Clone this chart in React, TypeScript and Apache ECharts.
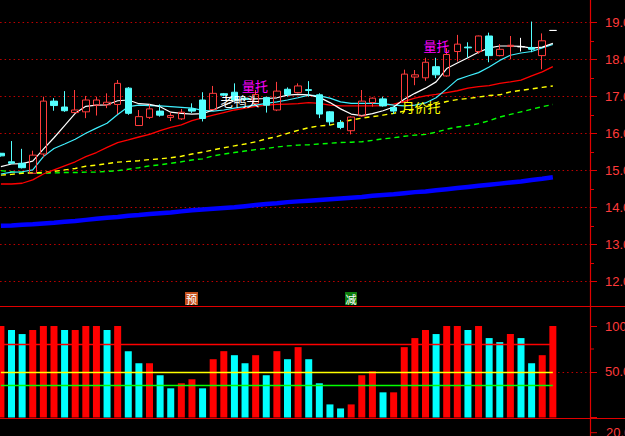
import React, { useEffect, useRef } from "react";
import * as echarts from "echarts";

// ---- data ----
const slotCount = 56; // 53 trading days + 3 empty slots at the right edge
const slots: string[] = Array.from({ length: slotCount }, (_, i) => String(i));

const candleOpen = [
  15.46, 15.23, 15.19, 14.92, 15.44, 16.87, 16.71, 16.56, 16.58, 16.76,
  16.77, 16.78, 17.22, 16.21, 16.43, 16.6, 16.43, 16.39, 16.66, 16.9,
  16.64, 17.07, 17.11, 16.95, 16.81, 16.97, 16.63, 17.19, 17.1, 17.18,
  17.04, 16.58, 16.29, 16.07, 16.47, 16.83, 16.93, 16.7, 16.84, 17.52,
  17.5, 17.8, 17.55, 18.21, 18.33, 18.21, 18.63, 18.1, 18.35, 18.34,
  18.32, 18.1, 18.78,
];
const candleClose = [
  15.39, 15.19, 15.07, 15.41, 16.87, 16.75, 16.61, 16.63, 16.9, 16.9,
  16.84, 17.35, 16.54, 16.45, 16.66, 16.49, 16.48, 16.57, 16.6, 16.4,
  17.08, 17.03, 16.9, 16.92, 17.05, 16.76, 17.14, 17.05, 17.28, 17.16,
  16.52, 16.31, 16.16, 16.44, 16.87, 16.95, 16.74, 16.6, 17.6, 17.58,
  17.92, 17.58, 18.13, 18.41, 18.31, 18.63, 18.1, 18.27, 18.38, 18.34,
  18.27, 18.5, 18.78,
];
const candleLow = [
  15.37, 15.17, 15.05, 14.9, 15.35, 16.61, 16.58, 16.55, 16.41, 16.48,
  16.68, 16.52, 16.5, 16.21, 16.39, 16.45, 16.33, 16.36, 16.55, 16.32,
  16.63, 17.0, 16.88, 16.88, 16.8, 16.56, 16.6, 16.99, 17.08, 16.99,
  16.41, 16.22, 16.11, 15.97, 16.45, 16.72, 16.72, 16.52, 16.82, 17.3,
  17.42, 17.49, 17.53, 17.94, 18.04, 18.15, 17.92, 18.08, 18.0, 18.21,
  18.19, 17.73, 18.78,
];
const candleHigh = [
  15.47, 15.79, 15.58, 15.53, 16.99, 16.95, 17.14, 17.17, 17.01, 16.99,
  17.08, 17.44, 17.25, 16.63, 16.78, 16.78, 16.56, 16.66, 16.81, 17.11,
  17.28, 17.09, 17.35, 17.0, 17.17, 16.99, 17.39, 17.24, 17.35, 17.41,
  17.08, 16.6, 16.36, 16.46, 17.17, 16.97, 16.99, 16.72, 17.72, 17.71,
  18.04, 18.04, 18.3, 18.66, 18.46, 18.64, 18.72, 18.41, 18.63, 18.58,
  19.02, 18.7, 18.78,
];

const maWhite = [
  15.1, 15.17, 15.18, 15.25, 15.57, 15.88, 16.21, 16.54, 16.73, 16.76,
  16.77, 16.88, 16.9, 16.8, 16.78, 16.72, 16.57, 16.54, 16.52, 16.53,
  16.63, 16.76, 16.88, 16.92, 16.93, 16.94, 16.96, 17.03, 17.05, 17.04,
  16.97, 16.83, 16.66, 16.52, 16.48, 16.53, 16.61, 16.71, 16.92, 17.08,
  17.22, 17.39, 17.75, 17.9, 18.04, 18.19, 18.31, 18.36, 18.36, 18.35,
  18.3, 18.33, 18.43,
];
const maCyan = [
  14.9, 14.95, 14.96, 15.01, 15.37, 15.59, 15.71, 15.84, 16.0, 16.14,
  16.27, 16.51, 16.72, 16.76, 16.75, 16.74, 16.72, 16.7, 16.68, 16.62,
  16.6, 16.63, 16.68, 16.72, 16.76, 16.81, 16.85, 16.9, 16.96, 17.03,
  17.01, 16.95, 16.85, 16.81, 16.81, 16.81, 16.8, 16.76, 16.74, 16.76,
  16.82, 16.96, 17.2, 17.45, 17.55, 17.64, 17.79, 17.97, 18.11, 18.17,
  18.21, 18.31, 18.4,
];
const maRed = [
  14.63, 14.63, 14.65, 14.74, 14.9, 15.01, 15.12, 15.23, 15.37, 15.48,
  15.62, 15.75, 15.82, 15.9, 15.97, 16.07, 16.16, 16.23, 16.34, 16.42,
  16.49, 16.56, 16.63, 16.68, 16.73, 16.76, 16.78, 16.79, 16.8, 16.83,
  16.81, 16.76, 16.74, 16.74, 16.74, 16.74, 16.75, 16.79, 16.86, 16.95,
  17.01, 17.05, 17.1, 17.15, 17.22, 17.26, 17.29, 17.35, 17.39, 17.44,
  17.55, 17.66, 17.8,
];
const maYellow = [
  14.87, 14.89, 14.92, 14.93, 14.94, 14.97, 15.01, 15.05, 15.11, 15.14,
  15.18, 15.22, 15.24, 15.26, 15.29, 15.31, 15.34, 15.38, 15.44, 15.49,
  15.55, 15.61, 15.66, 15.71, 15.77, 15.85, 15.91, 16.0, 16.08, 16.15,
  16.2, 16.22, 16.29, 16.36, 16.41, 16.45, 16.49, 16.54, 16.6, 16.65,
  16.72, 16.78, 16.86, 16.91, 16.94, 16.98, 17.02, 17.04, 17.12, 17.16,
  17.2, 17.24, 17.28,
];
const maGreen = [
  14.99, 14.96, 14.95, 14.92, 14.92, 14.93, 14.94, 14.94, 14.95, 14.95,
  14.97, 14.99, 15.03, 15.07, 15.12, 15.15, 15.19, 15.23, 15.28, 15.31,
  15.39, 15.44, 15.48, 15.52, 15.56, 15.59, 15.63, 15.66, 15.68, 15.69,
  15.71, 15.73, 15.75, 15.76, 15.77, 15.81, 15.85, 15.88, 15.92, 15.95,
  15.97, 16.03, 16.11, 16.17, 16.21, 16.26, 16.34, 16.44, 16.51, 16.58,
  16.65, 16.72, 16.78,
];
const maBlue = [
  13.5, 13.51, 13.53, 13.54, 13.56, 13.58, 13.61, 13.63, 13.66, 13.69,
  13.72, 13.74, 13.77, 13.79, 13.82, 13.84, 13.86, 13.89, 13.92, 13.94,
  13.96, 13.98, 14.0, 14.03, 14.06, 14.09, 14.11, 14.14, 14.16, 14.18,
  14.2, 14.22, 14.24, 14.26, 14.28, 14.31, 14.33, 14.35, 14.38, 14.41,
  14.43, 14.46, 14.49, 14.52, 14.55, 14.58, 14.61, 14.64, 14.67, 14.7,
  14.74, 14.77, 14.81,
];

// lower indicator panel
const indValues = [
  100, 95.6, 91.2, 95.6, 100, 100, 95.6, 95.6, 100, 100,
  95.6, 100, 72.5, 59.3, 59.3, 46.2, 31.9, 37.4, 41.8, 31.9,
  63.7, 72.5, 68.1, 59.3, 68.1, 46.2, 72.5, 63.7, 76.9, 63.7,
  37.4, 14.3, 9.9, 14.3, 46.2, 50.5, 27.5, 27.5, 76.9, 86.8,
  95.6, 91.2, 100, 100, 95.6, 100, 86.8, 82.4, 91.2, 86.8,
  59.3, 68.1, 100,
];
// 1 = red bar, -1 = cyan bar
const indDir = [
  1, -1, -1, 1, 1, 1, -1, 1, 1, 1,
  -1, 1, -1, -1, 1, -1, -1, 1, 1, -1,
  1, 1, -1, -1, 1, -1, 1, -1, 1, -1,
  -1, -1, -1, 1, 1, 1, -1, 1, 1, 1,
  1, -1, 1, 1, -1, 1, -1, -1, 1, -1,
  -1, 1, 1,
];
const indLevels = [80, 50, 35]; // red, yellow, green reference lines
const indLabels = ["100", "50.0"];

// ---- layout constants ----
const AXIS_X = 590;
const GRID_LEFT = -4.4;
const GRID_W = AXIS_X - GRID_LEFT;
const RED = "#e00000";
const LABEL_RED = "#ff3a3a";
const CANDLE_RED = "#ff3c3c";
const CANDLE_CYAN = "#54ffff";

export default function App() {
  const ref = useRef<HTMLDivElement>(null);

  useEffect(() => {
    if (!ref.current) return;
    const chart = echarts.init(ref.current, undefined, { renderer: "svg" });

    const dojiStyle = {
      color: "#ffffff",
      color0: "#ffffff",
      borderColor: "#ffffff",
      borderColor0: "#ffffff",
      borderColorDoji: "#ffffff",
    };
    const candleData = candleOpen.map((o, i) => {
      const v = [o, candleClose[i], candleLow[i], candleHigh[i]];
      return o === candleClose[i] ? { value: v, itemStyle: dojiStyle } : v;
    });
    const barData = indValues.map((v, i) => ({
      value: v,
      itemStyle: { color: indDir[i] > 0 ? "#ff0000" : "#00ffff" },
    }));

    const maLine = (data: number[], color: string, width: number, type: any, z = 2) => ({
      type: "line",
      xAxisIndex: 0,
      yAxisIndex: 0,
      data,
      showSymbol: false,
      symbol: "none",
      clip: false,
      silent: true,
      z,
      lineStyle: { color, width, type },
    });

    const levelColors = ["#ff0000", "#ffff00", "#00ff00"];
    const lastIdx = String(indValues.length - 1);

    const labelFont = { fontFamily: "Liberation Sans, Arial, sans-serif", fontSize: 13 };
    const cjk = "Noto Sans CJK SC";

    chart.setOption({
      animation: false,
      backgroundColor: "#000000",
      grid: [
        { left: GRID_LEFT, top: 22.3, width: GRID_W, height: 259, outerBoundsMode: "none", containLabel: false },
        { left: GRID_LEFT, top: 326, width: GRID_W, height: 91.5, outerBoundsMode: "none", containLabel: false },
      ],
      xAxis: [
        { type: "category", gridIndex: 0, data: slots, boundaryGap: true, show: false },
        { type: "category", gridIndex: 1, data: slots, boundaryGap: true, show: false },
      ],
      yAxis: [
        {
          type: "value",
          gridIndex: 0,
          position: "right",
          min: 12,
          max: 19,
          interval: 1,
          axisLine: { show: false },
          axisTick: { show: true, length: 7, lineStyle: { color: RED } },
          minorTick: { show: true, splitNumber: 2, length: 4, lineStyle: { color: RED } },
          splitLine: { show: true, lineStyle: { color: "#c00000", type: [1.5, 3], width: 1 } },
          axisLabel: {
            show: true,
            margin: 15,
            color: LABEL_RED,
            ...labelFont,
            formatter: (v: number) => v.toFixed(1),
          },
        },
        {
          type: "value",
          gridIndex: 1,
          position: "right",
          min: 0,
          max: 100,
          interval: 50,
          axisLine: { show: false },
          axisTick: { show: true, length: 7, lineStyle: { color: RED } },
          splitLine: { show: false },
          axisLabel: {
            show: true,
            margin: 15,
            color: LABEL_RED,
            ...labelFont,
            formatter: (v: number) => (v === 100 ? indLabels[0] : v === 50 ? indLabels[1] : ""),
          },
        },
      ],
      series: [
        maLine(maBlue, "#0000ff", 4.5, "solid"),
        maLine(maGreen, "#00ff00", 1.4, [5, 4]),
        maLine(maYellow, "#ffff00", 1.4, [5, 4]),
        maLine(maRed, "#ff0000", 1.3, "solid"),
        maLine(maCyan, "#40f0ff", 1.2, "solid"),
        maLine(maWhite, "#ffffff", 1.2, "solid"),
        {
          type: "candlestick",
          xAxisIndex: 0,
          yAxisIndex: 0,
          data: candleData,
          barWidth: 7,
          clip: false,
          silent: true,
          z: 3,
          itemStyle: {
            color: "transparent",
            color0: CANDLE_CYAN,
            borderColor: CANDLE_RED,
            borderColor0: CANDLE_CYAN,
            borderColorDoji: "#ffffff",
            borderWidth: 1,
          },
        },
        {
          type: "bar",
          xAxisIndex: 1,
          yAxisIndex: 1,
          data: barData,
          barWidth: 7,
          silent: true,
          z: 2,
          markLine: {
            silent: true,
            symbol: "none",
            label: { show: false },
            z: 1,
            lineStyle: { color: "#c00000", type: [1.5, 3], width: 1 },
            data: [{ yAxis: 50 }],
          },
        },
        {
          type: "line",
          xAxisIndex: 1,
          yAxisIndex: 1,
          data: [],
          silent: true,
          z: 4,
          markLine: {
            silent: true,
            symbol: "none",
            label: { show: false },
            data: indLevels.map((lv, k) => [
              { coord: ["0", lv], lineStyle: { color: levelColors[k], width: 1.3, type: "solid" } },
              { coord: [lastIdx, lv] },
            ]),
          },
        },
      ],
      graphic: [
        // right vertical axis line across both panels
        { type: "line", z: 50, shape: { x1: AXIS_X + 0.5, y1: 0, x2: AXIS_X + 0.5, y2: 436 }, style: { stroke: RED, lineWidth: 1.2 } },
        // panel separator lines
        { type: "line", z: 50, shape: { x1: 0, y1: 306.5, x2: 625, y2: 306.5 }, style: { stroke: RED, lineWidth: 1.2 } },
        { type: "line", z: 50, shape: { x1: 0, y1: 418.5, x2: 625, y2: 418.5 }, style: { stroke: RED, lineWidth: 1.2 } },
        // lower-panel minor tick and the next panel's label
        { type: "line", z: 50, shape: { x1: AXIS_X, y1: 349, x2: AXIS_X + 4, y2: 349 }, style: { stroke: RED, lineWidth: 1 } },
        { type: "line", z: 50, shape: { x1: AXIS_X, y1: 432.7, x2: AXIS_X + 7, y2: 432.7 }, style: { stroke: RED, lineWidth: 1 } },
        {
          type: "text", z: 50, x: 606, y: 432.7,
          style: { text: "20.0", fill: LABEL_RED, fontSize: 13, fontFamily: labelFont.fontFamily, align: "left", verticalAlign: "middle" },
        },
        // event markers
        { type: "rect", z: 50, shape: { x: 185, y: 292, width: 13, height: 13 }, style: { fill: "#c4501c" } },
        {
          type: "text", z: 51, x: 191.5, y: 298.5,
          style: { text: "预", fill: "#ffffff", fontSize: 11, fontFamily: cjk, align: "center", verticalAlign: "middle" },
        },
        { type: "rect", z: 50, shape: { x: 345, y: 292, width: 12, height: 13 }, style: { fill: "#0c7c0c" } },
        {
          type: "text", z: 51, x: 351, y: 298.5,
          style: { text: "减", fill: "#ffffff", fontSize: 11, fontFamily: cjk, align: "center", verticalAlign: "middle" },
        },
        // pattern annotations
        {
          type: "text", z: 60, x: 255, y: 85,
          style: { text: "量托", fill: "#ff00ff", fontSize: 13, fontFamily: cjk, align: "center", verticalAlign: "middle" },
        },
        {
          type: "text", z: 60, x: 240, y: 100,
          style: { text: "老鸭头", fill: "#ffffff", fontSize: 13, fontFamily: cjk, align: "center", verticalAlign: "middle" },
        },
        {
          type: "text", z: 60, x: 436.5, y: 45,
          style: { text: "量托", fill: "#ff00ff", fontSize: 13, fontFamily: cjk, align: "center", verticalAlign: "middle" },
        },
        {
          type: "text", z: 60, x: 421, y: 106,
          style: { text: "月价托", fill: "#ffff00", fontSize: 13, fontFamily: cjk, align: "center", verticalAlign: "middle" },
        },
      ],
    });

    return () => chart.dispose();
  }, []);

  return (
    <div
      ref={ref}
      style={{ position: "fixed", left: 0, top: 0, width: 625, height: 436, background: "#000" }}
    />
  );
}
